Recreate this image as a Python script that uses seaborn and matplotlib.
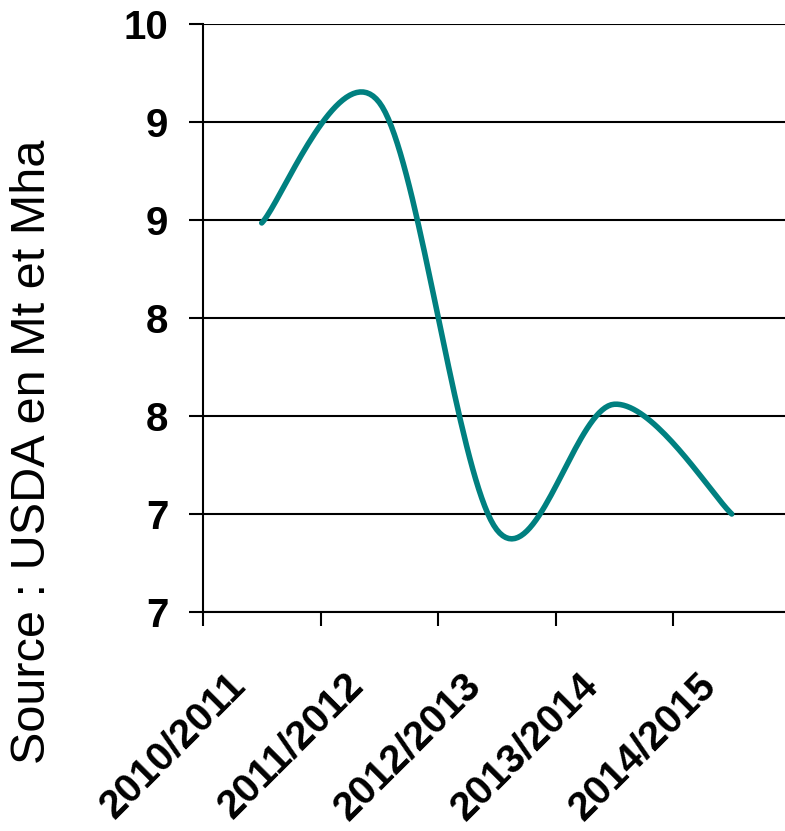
import numpy as np
import pandas as pd
import matplotlib
matplotlib.use('Agg')
import matplotlib.pyplot as plt
import seaborn as sns

# ========= DONNEES =========
campagnes = ['2010/2011', '2011/2012', '2012/2013', '2013/2014', '2014/2015']
valeurs = [8.485, 9.10, 6.92, 7.56, 7.00]

y_ticks = [6.5, 7.0, 7.5, 8.0, 8.5, 9.0, 9.5]
y_labels = ['7', '7', '8', '8', '9', '9', '10']

# ========= LISSAGE (type Excel, Catmull-Rom / Bezier) =========
def lissage(xs, ys, n=40):
    pts = np.column_stack([xs, ys]).astype(float)
    out = []
    for i in range(len(pts) - 1):
        p0 = pts[i - 1] if i > 0 else pts[i]
        p1 = pts[i]
        p2 = pts[i + 1]
        p3 = pts[i + 2] if i + 2 < len(pts) else pts[i + 1]
        c1 = p1 + (p2 - p0) / 6
        c2 = p2 - (p3 - p1) / 6
        t = np.linspace(0, 1, n)[:, None]
        seg = ((1 - t) ** 3) * p1 + 3 * ((1 - t) ** 2) * t * c1 + 3 * (1 - t) * t ** 2 * c2 + t ** 3 * p2
        out.append(seg if i == 0 else seg[1:])
    return np.vstack(out)

courbe = lissage(np.arange(len(campagnes)), valeurs)
df = pd.DataFrame({'x': courbe[:, 0], 'y': courbe[:, 1]})

# ========= GRAPHIQUE =========
sns.set_style('white')
plt.rcParams['font.family'] = ['Liberation Sans', 'DejaVu Sans']
plt.rcParams['text.color'] = 'black'
plt.rcParams['xtick.color'] = 'black'
plt.rcParams['ytick.color'] = 'black'

fig = plt.figure(figsize=(7.85, 8.31), dpi=100)
ax = fig.add_axes([203 / 785, 1 - 612 / 831, 587.5 / 785, 588 / 831])

sns.lineplot(data=df, x='x', y='y', sort=False, color='#008080', linewidth=4,
             ax=ax, solid_capstyle='round')

ax.set_xlim(-0.5, 4.5)
ax.set_ylim(6.5, 9.5)
ax.set_yticks(y_ticks)
ax.set_yticklabels(y_labels, fontsize=29, fontweight='bold', color='black')
ax.yaxis.grid(True, color='black', linewidth=1.5)
ax.set_axisbelow(True)

ax.set_xticks(np.arange(-0.5, 5, 1))
ax.set_xticklabels([])
ax.tick_params(axis='both', direction='out', length=10, width=1.5, color='black',
               bottom=True, left=True)
ax.tick_params(axis='y', pad=15)
for i, lab in enumerate(campagnes):
    ax.annotate(lab, xy=(i, 0), xycoords=ax.get_xaxis_transform(),
                xytext=(-22, -67), textcoords='offset pixels',
                ha='right', va='center', rotation=45, rotation_mode='anchor',
                fontsize=29, fontweight='bold', color='black', annotation_clip=False)

for s in ['top', 'right']:
    ax.spines[s].set_visible(False)
for s in ['left', 'bottom']:
    ax.spines[s].set_color('black')
    ax.spines[s].set_linewidth(1.5)

ax.set_xlabel('')
ax.set_ylabel('')
fig.text(33 / 785, 1 - 452 / 831, 'Source : USDA en Mt et Mha', rotation=90,
         ha='center', va='center', fontsize=35, color='black')

fig.savefig('out.png', dpi=100)
plt.close()
